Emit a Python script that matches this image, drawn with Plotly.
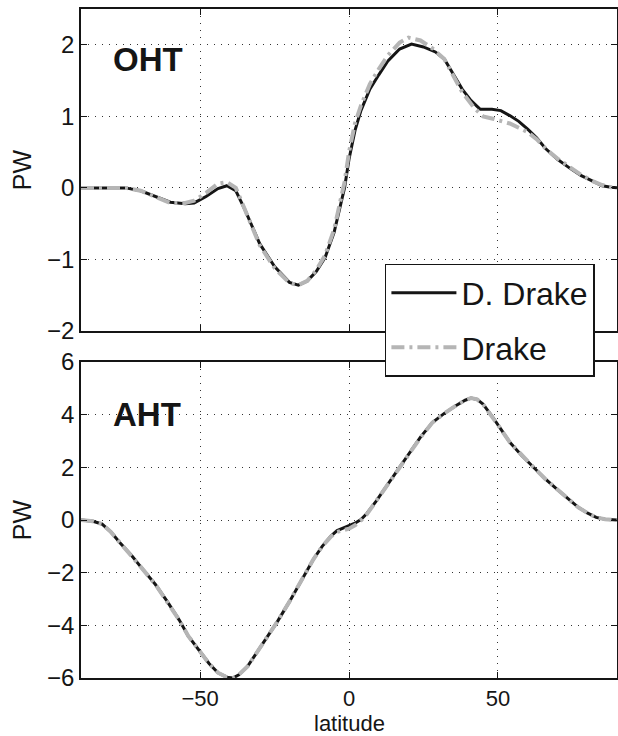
import plotly.graph_objects as go

# ---------------- data ----------------
oht_lat_dd = [-90, -85, -80, -75, -70, -65, -60, -55, -52, -48, -44, -41, -38, -35, -30, -25, -20, -17,
              -14, -11, -8, -5, -3, -1.5, 0, 2, 4, 7, 10, 13, 17, 21, 25, 29, 32, 35, 38, 41, 44, 48,
              51, 54, 57, 60, 63, 66, 70, 74, 78, 82, 85, 88, 90]
oht_dd = [0, 0, 0, 0, -0.04, -0.12, -0.2, -0.22, -0.21, -0.12, -0.01, 0.03, -0.04, -0.3, -0.78, -1.1, -1.32, -1.36,
          -1.3, -1.17, -0.97, -0.62, -0.28, 0.0, 0.4, 0.8, 1.08, 1.38, 1.58, 1.77, 1.94, 2.01, 1.97, 1.9, 1.8, 1.6,
          1.38, 1.22, 1.1, 1.1, 1.08, 1.01, 0.93, 0.82, 0.7, 0.55, 0.4, 0.28, 0.17, 0.09, 0.03, 0.01, 0]

oht_lat_d = [-90, -85, -80, -75, -70, -65, -60, -55, -52, -48, -44, -41, -38, -35, -30, -25, -20, -17,
             -14, -11, -8, -5, -3, -1.5, 0, 2, 4, 7, 10, 13, 17, 20, 24, 28, 32, 35, 38, 42, 45, 48,
             51, 54, 57, 60, 63, 66, 70, 74, 78, 82, 85, 88, 90]
oht_d = [0, 0, 0, 0, -0.04, -0.13, -0.21, -0.21, -0.18, -0.07, 0.06, 0.08, 0.0, -0.3, -0.8, -1.12, -1.33, -1.36,
         -1.3, -1.15, -0.94, -0.58, -0.22, 0.08, 0.5, 0.9, 1.15, 1.45, 1.66, 1.85, 2.03, 2.1, 2.06, 1.95, 1.8, 1.58,
         1.34, 1.12, 1.0, 0.97, 0.94, 0.9, 0.84, 0.78, 0.68, 0.55, 0.41, 0.29, 0.18, 0.09, 0.04, 0.01, 0]

aht_lat = [-90, -86, -83, -80, -77, -73, -70, -65, -61, -57, -54, -50, -47, -44, -41, -39, -37, -34, -31, -28,
           -24, -20, -16, -12, -9, -6, -4, -2, 0, 2, 4, 6, 9, 12, 16, 20, 24, 28, 32, 36, 39, 41, 43, 45,
           48, 51, 54, 58, 62, 66, 70, 74, 77, 80, 83, 86, 90]
aht_dd = [0, -0.05, -0.15, -0.45, -0.85, -1.35, -1.77, -2.45, -3.1, -3.8, -4.4, -5.0, -5.45, -5.8, -5.97, -6.0,
          -5.88, -5.55, -5.05, -4.55, -3.85, -3.1, -2.3, -1.5, -1.0, -0.6, -0.4, -0.3, -0.22, -0.12, 0.02, 0.25,
          0.7, 1.2, 1.85, 2.5, 3.15, 3.7, 4.05, 4.35, 4.55, 4.63, 4.58, 4.4, 3.95, 3.45, 2.95, 2.45, 2.0, 1.55,
          1.15, 0.75, 0.48, 0.27, 0.1, 0.03, 0]
aht_d = [0, -0.05, -0.15, -0.45, -0.85, -1.35, -1.77, -2.45, -3.1, -3.8, -4.4, -5.0, -5.45, -5.8, -5.97, -6.0,
         -5.88, -5.55, -5.05, -4.55, -3.85, -3.1, -2.3, -1.5, -1.0, -0.62, -0.45, -0.38, -0.33, -0.2, -0.02, 0.22,
         0.68, 1.18, 1.83, 2.48, 3.13, 3.7, 4.05, 4.35, 4.55, 4.63, 4.58, 4.4, 3.95, 3.45, 2.95, 2.45, 2.0, 1.55,
         1.15, 0.75, 0.48, 0.27, 0.1, 0.03, 0]

series_names = ["D. Drake", "Drake"]
panel_labels = ["OHT", "AHT"]
xticks = [-50, 0, 50]
yticks_top = [-2, -1, 0, 1, 2]
yticks_bot = [-6, -4, -2, 0, 2, 4, 6]

# ---------------- styles ----------------
BLACK = "#151515"
GRAY = "#b5b5b5"
FONT = "Liberation Sans, Arial, Helvetica, sans-serif"
black_line = dict(color=BLACK, width=3)
gray_line = dict(color=GRAY, width=4, dash="13px,5px,3px,5px")

fig = go.Figure()
fig.add_trace(go.Scatter(x=oht_lat_dd, y=oht_dd, mode="lines", line=black_line, name=series_names[0],
                         xaxis="x", yaxis="y", legendgroup="a"))
fig.add_trace(go.Scatter(x=oht_lat_d, y=oht_d, mode="lines", line=gray_line, name=series_names[1],
                         xaxis="x", yaxis="y", legendgroup="b"))
fig.add_trace(go.Scatter(x=aht_lat, y=aht_dd, mode="lines", line=black_line, name=series_names[0],
                         xaxis="x2", yaxis="y2", showlegend=False))
fig.add_trace(go.Scatter(x=aht_lat, y=aht_d, mode="lines", line=gray_line, name=series_names[1],
                         xaxis="x2", yaxis="y2", showlegend=False))

axis_base = dict(showline=True, linecolor=BLACK, linewidth=1.5, mirror="ticks", ticks="inside",
                 ticklen=6, tickcolor=BLACK, showgrid=True, gridcolor="#333333", gridwidth=1,
                 griddash="1px,6px", zeroline=False, automargin=False)
ytick_font = dict(size=24, color=BLACK, family=FONT)
xtick_font = dict(size=22, color=BLACK, family=FONT)

fig.update_layout(
    width=618, height=736,
    margin=dict(l=81, r=1, t=9, b=58),
    paper_bgcolor="white", plot_bgcolor="white",
    font=dict(family=FONT, color=BLACK),
    xaxis=dict(domain=[0, 1], anchor="y", range=[-90, 90], tickvals=xticks, showticklabels=False,
               tickfont=xtick_font, **axis_base),
    yaxis=dict(domain=[0.5187, 1], anchor="x", range=[-2, 2.5], tickvals=yticks_top, tickfont=ytick_font,
               title=dict(text="PW", font=dict(size=25, family=FONT, color=BLACK), standoff=8), **axis_base),
    xaxis2=dict(domain=[0, 1], anchor="y2", range=[-90, 90], tickvals=xticks, tickfont=xtick_font, **axis_base),
    yaxis2=dict(domain=[0, 0.4723], anchor="x2", range=[-6, 6], tickvals=yticks_bot, tickfont=ytick_font,
                title=dict(text="PW", font=dict(size=25, family=FONT, color=BLACK), standoff=8), **axis_base),
    showlegend=True,
    legend=dict(x=0.567, y=0.619, xanchor="left", yanchor="top", bgcolor="white", bordercolor=BLACK,
                borderwidth=1.5, font=dict(size=32, family=FONT, color=BLACK), tracegroupgap=10,
                itemwidth=65),
    annotations=[
        dict(text="<b>%s</b>" % panel_labels[0], x=-80, y=1.8, xref="x", yref="y", xanchor="left",
             yanchor="middle", showarrow=False, font=dict(size=33, family=FONT, color=BLACK)),
        dict(text="<b>%s</b>" % panel_labels[1], x=-80, y=4.0, xref="x2", yref="y2", xanchor="left",
             yanchor="middle", showarrow=False, font=dict(size=33, family=FONT, color=BLACK)),
        dict(text="latitude", x=0.5, y=-0.0673, xref="paper", yref="paper", xanchor="center",
             yanchor="middle", showarrow=False, font=dict(size=22, family=FONT, color=BLACK)),
    ],
)

fig.write_html("out.html")
